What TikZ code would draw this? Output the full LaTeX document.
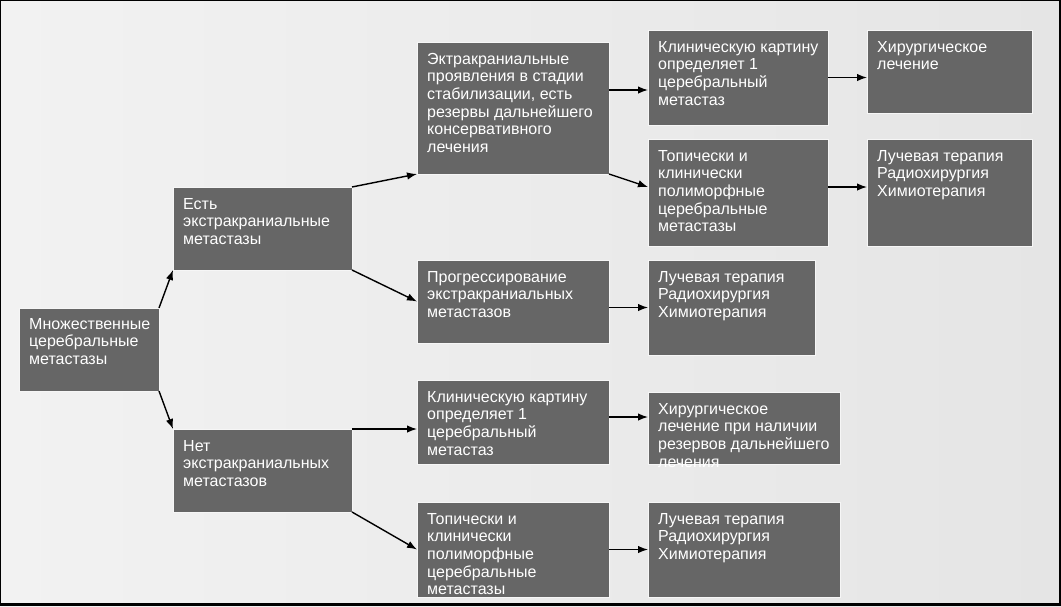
\documentclass[tikz,border=0pt]{standalone}
\usepackage{fontspec}
\setmainfont{Liberation Sans}
\usetikzlibrary{arrows.meta,calc}
\definecolor{boxfill}{HTML}{666666}
\definecolor{bgA}{HTML}{F2F2F2}
\definecolor{bgB}{HTML}{E5E5E5}
\definecolor{halo}{HTML}{F6F6F6}
\begin{document}
\begin{tikzpicture}[x=1pt,y=-1pt,
  box/.style={draw=halo, line width=1pt, fill=boxfill, inner sep=0pt, outer sep=0pt, anchor=north west},
  txt/.style={text=white, font=\fontsize{16}{17.6}\selectfont, align=left, inner sep=0pt, anchor=north west},
  arr/.style={line width=1.4pt, -{Latex[length=10pt,width=7.5pt]}}]
\useasboundingbox (0,0) rectangle (1061,606);
\shade[left color=bgA, right color=bgB] (0,0) rectangle (1061,606);
\fill[black] (0,0) rectangle (1061,1);
\fill[black] (0,0) rectangle (1,606);
\fill[black] (1058.5,0) rectangle (1061,606);
\fill[black] (0,603.3) rectangle (1061,606);

% boxes
\node[box, minimum width=140pt, minimum height=83pt] (b1) at (19,308) {};
\node[box, minimum width=179pt, minimum height=83pt] (b2) at (173,187) {};
\node[box, minimum width=179pt, minimum height=83pt] (b3) at (173,429) {};
\node[box, minimum width=192pt, minimum height=132pt] (b4) at (417,42) {};
\node[box, minimum width=192pt, minimum height=83pt] (b5) at (417,260) {};
\node[box, minimum width=192pt, minimum height=84pt] (b6) at (417,380) {};
\node[box, minimum width=192pt, minimum height=95pt] (b7) at (417,502) {};
\node[box, minimum width=180pt, minimum height=95pt] (b8) at (648,30) {};
\node[box, minimum width=180pt, minimum height=107pt] (b9) at (648,139) {};
\node[box, minimum width=167pt, minimum height=95pt] (b10) at (648,260) {};
\node[box, minimum width=192pt, minimum height=72pt] (b11) at (648,392) {};
\node[box, minimum width=192pt, minimum height=95pt] (b12) at (648,502) {};
\node[box, minimum width=165pt, minimum height=83pt] (b13) at (867,30) {};
\node[box, minimum width=165pt, minimum height=107pt] (b14) at (867,139) {};

% texts
\node[txt] (t1) at ($(b1.north west)+(10,10)$) {Множественные\\церебральные\\метастазы};
\node[txt] (t2) at ($(b2.north west)+(10,11)$) {Есть\\экстракраниальные\\метастазы};
\node[txt] (t3) at ($(b3.north west)+(10,11)$) {Нет\\экстракраниальных\\метастазов};
\node[txt] (t4) at ($(b4.north west)+(10,11)$) {Эктракраниальные\\проявления в стадии\\стабилизации, есть\\резервы дальнейшего\\консервативного\\лечения};
\node[txt] (t5) at ($(b5.north west)+(10,11)$) {Прогрессирование\\экстракраниальных\\метастазов};
\node[txt] (t6) at ($(b6.north west)+(10,11)$) {Клиническую картину\\определяет 1\\церебральный\\метастаз};
\node[txt] (t7) at ($(b7.north west)+(10,11)$) {Топически и\\клинически\\полиморфные\\церебральные\\метастазы};
\node[txt] (t8) at ($(b8.north west)+(10,11)$) {Клиническую картину\\определяет 1\\церебральный\\метастаз};
\node[txt] (t9) at ($(b9.north west)+(10,11)$) {Топически и\\клинически\\полиморфные\\церебральные\\метастазы};
\node[txt] (t10) at ($(b10.north west)+(10,11)$) {Лучевая терапия\\Радиохирургия\\Химиотерапия};
\node[txt] (t11) at ($(b11.north west)+(10,11)$) {Хирургическое\\лечение при наличии\\резервов дальнейшего\\лечения};
\node[txt] (t12) at ($(b12.north west)+(10,11)$) {Лучевая терапия\\Радиохирургия\\Химиотерапия};
\node[txt] (t13) at ($(b13.north west)+(10,11)$) {Хирургическое\\лечение};
\node[txt] (t14) at ($(b14.north west)+(10,11)$) {Лучевая терапия\\Радиохирургия\\Химиотерапия};

% connectors
\draw[arr] (b1.north east) -- (b2.south west);
\draw[arr] (b1.south east) -- (b3.north west);
\draw[arr] (b2.north east) -- (b4.south west);
\draw[arr] (b2.south east) -- (b5.west);
\draw[arr] (b3.north east) -- (b3.north east -| b6.west);
\draw[arr] (b3.south east) -- (b7.west);
\draw[arr] ([yshift=-48pt]b4.north east) -- ([yshift=-48pt]b4.north east -| b8.west);
\draw[arr] (b4.south east) -- ([yshift=5.5pt]b9.west);
\draw[arr] (b10.west -| b5.east) -- (b10.west);
\draw[arr] ([yshift=5pt]b6.east) -- ([yshift=5pt]b6.east -| b11.west);
\draw[arr] (b7.east) -- (b12.west);
\draw[arr] (b8.east) -- (b8.east -| b13.west);
\draw[arr] ([yshift=5.5pt]b9.east) -- ([yshift=5.5pt]b9.east -| b14.west);
\end{tikzpicture}
\end{document}
